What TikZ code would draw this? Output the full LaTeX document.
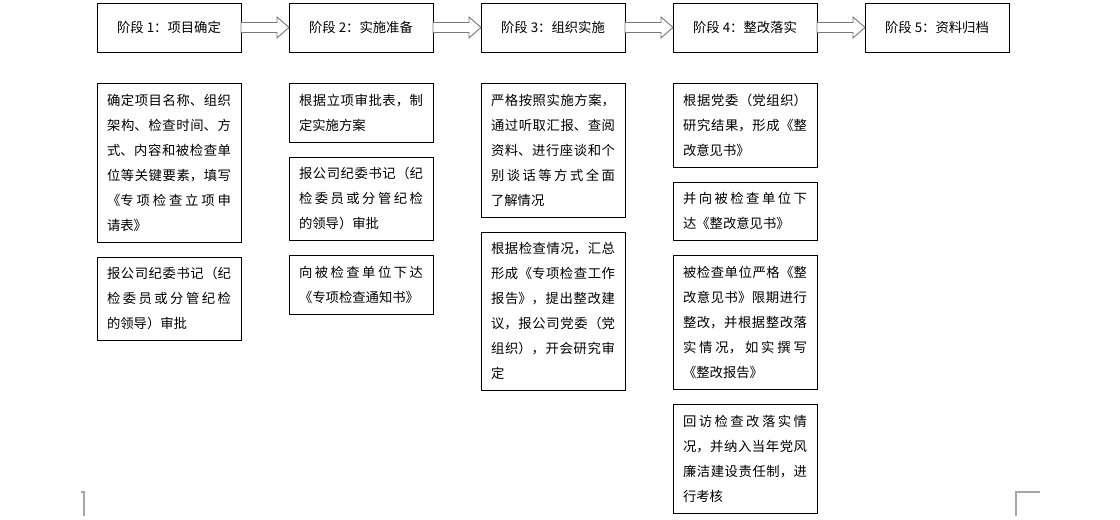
\documentclass[tikz,border=0pt]{standalone}
\usepackage{fontspec}
\setmainfont{Noto Sans CJK SC}
\usepackage{tikz}
\usetikzlibrary{positioning,calc}
\XeTeXlinebreaklocale "zh"
\XeTeXlinebreakskip=0pt plus 2pt

\begin{document}
\begin{tikzpicture}[
  every node/.style={font=\fontsize{10pt}{18.75pt}\selectfont},
  stage/.style={draw, line width=0.7pt, outer sep=0pt, minimum width=108pt, minimum height=36.75pt, inner sep=0pt},
  note/.style={draw, line width=0.7pt, outer sep=0pt, text width=93pt, align=justify, inner xsep=7.5pt, inner ysep=3.25pt,
    execute at begin node=\strut, execute at end node=\strut},
  flowarrow/.style={draw=gray!95!black, fill=white, line width=0.7pt, line join=miter},
  cropmark/.style={draw=black!35, line width=0.8pt}]
  \useasboundingbox (0,0) rectangle (840pt,-390pt);
  \node[stage, anchor=north west] (s1) at (72.75pt,-2.25pt) {阶段 1：项目确定};
  \node[stage, right=36pt of s1] (s2) {阶段 2：实施准备};
  \node[stage, right=36pt of s2] (s3) {阶段 3：组织实施};
  \node[stage, right=36pt of s3] (s4) {阶段 4：整改落实};
  \node[stage, right=36pt of s4] (s5) {阶段 5：资料归档};
  \foreach \a/\b in {s1/s2,s2/s3,s3/s4,s4/s5}
    \draw[flowarrow] ([yshift=3.75pt]\a.east) -- ++(27pt,0) -- ++(0,4.125pt) -- (\b.west)
      -- ++(-9pt,-7.875pt) -- ++(0,4.125pt) -- ([yshift=-3.75pt]\a.east) -- cycle;

  \node[note, below=23.5pt of s1] (t1a) {确定项目名称、组织\linebreak 架构、检查时间、方\linebreak 式、内容和被检查单\linebreak 位等关键要素，填写\linebreak 《专项检查立项申\linebreak 请表》};
  \node[note, below=11.25pt of t1a] (t1b) {报公司纪委书记（纪\linebreak 检委员或分管纪检\linebreak 的领导）审批};

  \node[note, below=23.5pt of s2] (t2a) {根据立项审批表，制\linebreak 定实施方案};
  \node[note, below=11.25pt of t2a] (t2b) {报公司纪委书记（纪\linebreak 检委员或分管纪检\linebreak 的领导）审批};
  \node[note, below=11.25pt of t2b] (t2c) {向被检查单位下达\linebreak 《专项检查通知书》};

  \node[note, below=23.5pt of s3] (t3a) {严格按照实施方案，\linebreak 通过听取汇报、查阅\linebreak 资料、进行座谈和个\linebreak 别谈话等方式全面\linebreak 了解情况};
  \node[note, below=11.25pt of t3a] (t3b) {根据检查情况，汇总\linebreak 形成《专项检查工作\linebreak 报告》，提出整改建\linebreak 议，报公司党委（党\linebreak 组织），开会研究审\linebreak 定};

  \node[note, below=23.5pt of s4] (t4a) {根据党委（党组织）\linebreak 研究结果，形成《整\linebreak 改意见书》};
  \node[note, below=11.25pt of t4a] (t4b) {并向被检查单位下\linebreak 达《整改意见书》};
  \node[note, below=11.25pt of t4b] (t4c) {被检查单位严格《整\linebreak 改意见书》限期进行\linebreak 整改，并根据整改落\linebreak 实情况，如实撰写\linebreak 《整改报告》};
  \node[note, below=11.25pt of t4c] (t4d) {回访检查改落实情\linebreak 况，并纳入当年党风\linebreak 廉洁建设责任制，进\linebreak 行考核};

  \draw[cropmark] (60.75pt,-369pt) -- (63pt,-369pt) -- (63pt,-387pt);
  \draw[cropmark] (762pt,-387pt) -- (762pt,-369pt) -- (780pt,-369pt);
\end{tikzpicture}
\end{document}
